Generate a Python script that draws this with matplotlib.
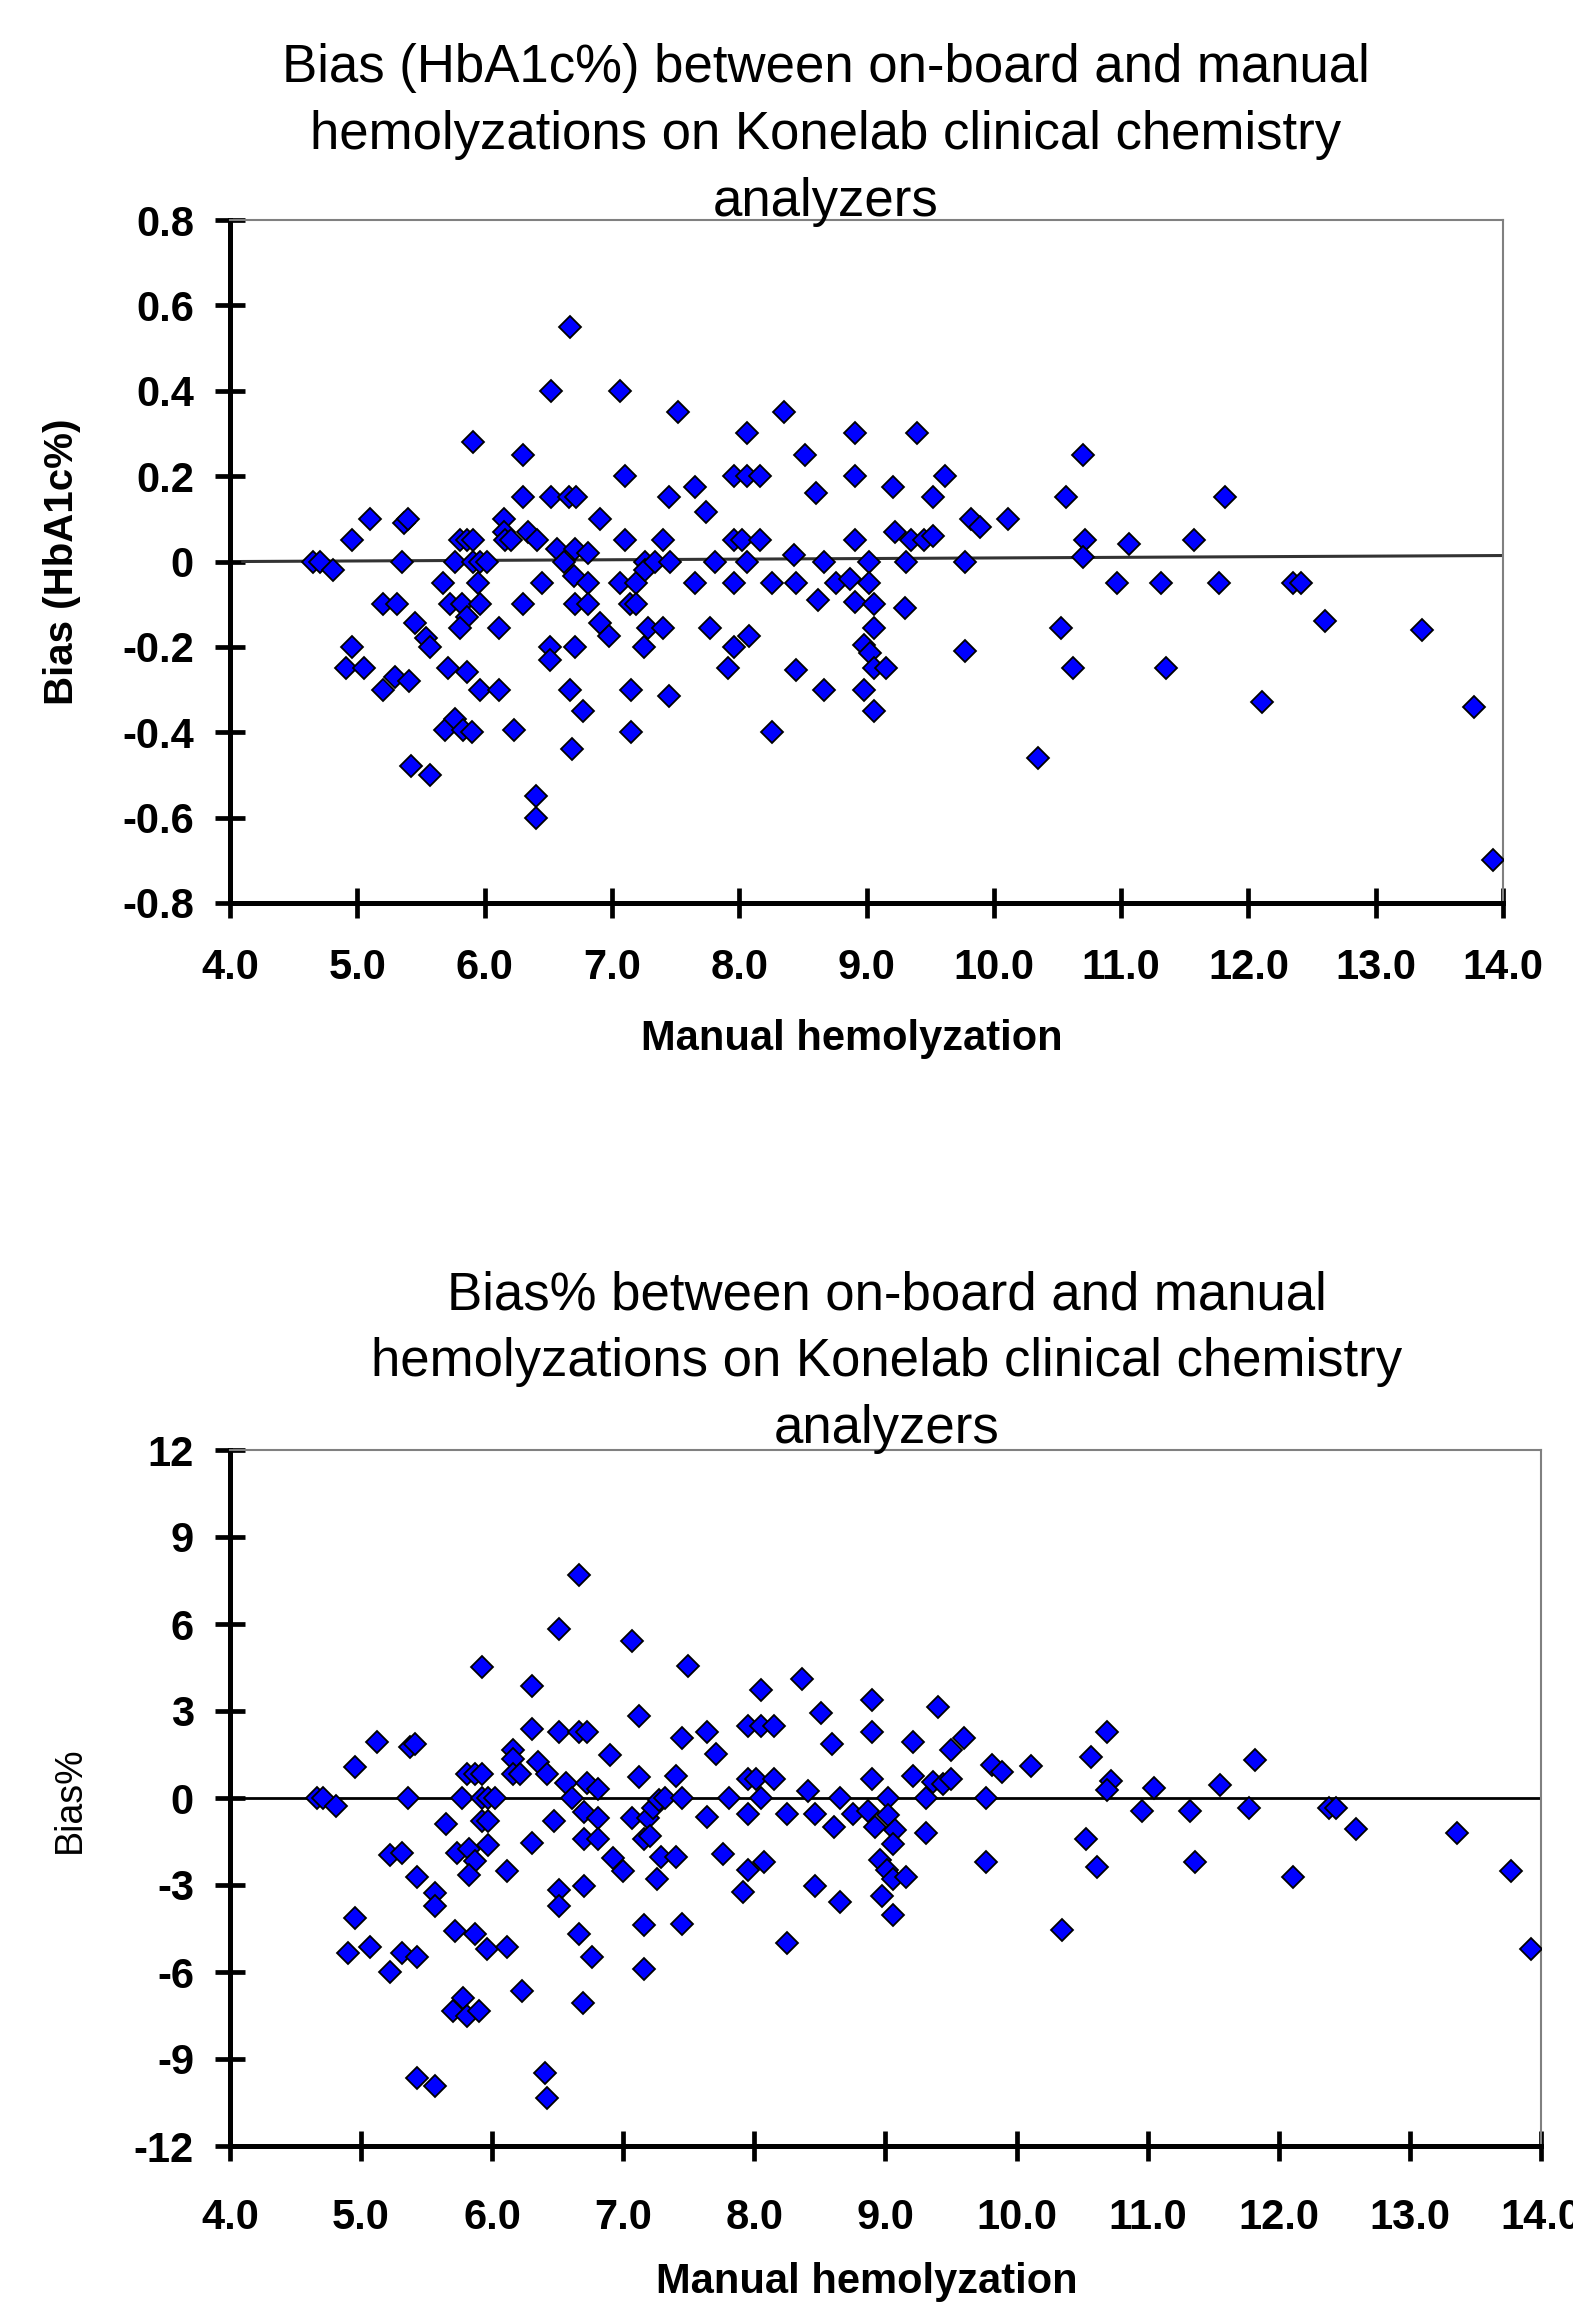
import numpy as np
import matplotlib
matplotlib.use('Agg')
import matplotlib.pyplot as plt

plt.rcParams['font.family'] = ['Liberation Sans', 'DejaVu Sans']

W, H = 1573, 2304

# top panel: bias in HbA1c% units vs manual hemolyzation
manual_a = [6.67, 6.52, 7.06, 5.91, 6.30, 7.10, 6.30, 6.52, 6.66, 6.72,
            5.10, 5.37, 5.40, 6.15, 6.91, 4.96, 5.81, 5.86, 5.91, 6.15,
            6.16, 6.21, 6.34, 6.41, 7.10, 4.65, 4.71, 4.81, 5.35, 5.77,
            5.91, 5.96, 6.02, 6.57, 6.62, 6.71, 6.81, 7.26, 5.67, 5.95,
            6.45, 6.70, 6.81, 7.06, 7.19, 7.26, 5.20, 5.31, 5.73, 5.82,
            5.96, 6.30, 6.71, 6.81, 7.14, 7.19, 5.86, 5.45, 5.81, 6.11,
            6.91, 6.98, 7.28, 5.54, 5.57, 4.96, 6.51, 6.51, 6.71, 7.25,
            4.91, 5.05, 5.20, 5.30, 5.41, 5.71, 5.86, 5.96, 6.11, 6.67,
            6.77, 7.15, 5.69, 5.77, 5.83, 5.90, 6.23, 6.69, 7.15, 5.42,
            5.57, 6.40, 6.40,
            7.52, 8.35, 8.06, 8.91, 9.40, 8.52, 7.45, 7.65, 7.74, 7.96,
            8.06, 8.16, 8.60, 8.91, 9.21, 9.52, 9.62, 9.82, 9.89, 10.11,
            7.40, 7.96, 8.02, 8.16, 8.91, 9.22, 9.35, 9.45, 9.52, 7.34,
            7.46, 7.81, 8.06, 8.43, 8.67, 9.02, 9.31, 9.77, 7.65, 7.96,
            8.26, 8.45, 8.76, 8.87, 9.02, 8.62, 8.91, 9.06, 9.30, 7.40,
            7.77, 9.06, 8.08, 7.96, 8.98, 9.03, 9.77, 7.91, 8.45, 9.06,
            9.15, 7.45, 8.67, 8.98, 9.06, 8.26, 10.35,
            10.70, 10.57, 11.82, 10.72, 11.06, 11.57, 10.70, 10.97, 11.31, 11.77,
            12.35, 12.41, 12.60, 13.36, 10.53, 10.62, 11.35, 12.11, 13.77, 13.92]
bias_a = [0.55, 0.40, 0.40, 0.28, 0.25, 0.20, 0.15, 0.15, 0.15, 0.15,
          0.10, 0.09, 0.10, 0.10, 0.10, 0.05, 0.05, 0.05, 0.05, 0.07,
          0.05, 0.05, 0.07, 0.05, 0.05, 0.0, 0.0, -0.02, 0.0, 0.0,
          0.0, 0.0, 0.0, 0.03, 0.0, 0.03, 0.02, 0.0, -0.05, -0.05,
          -0.05, -0.035, -0.05, -0.05, -0.05, -0.02, -0.10, -0.10, -0.10, -0.10,
          -0.10, -0.10, -0.10, -0.10, -0.10, -0.10, -0.13, -0.145, -0.155, -0.155,
          -0.145, -0.175, -0.155, -0.18, -0.20, -0.20, -0.20, -0.23, -0.20, -0.20,
          -0.25, -0.25, -0.30, -0.27, -0.28, -0.25, -0.26, -0.30, -0.30, -0.30,
          -0.35, -0.30, -0.395, -0.37, -0.395, -0.40, -0.395, -0.44, -0.40, -0.48,
          -0.50, -0.55, -0.60,
          0.35, 0.35, 0.30, 0.30, 0.30, 0.25, 0.15, 0.175, 0.115, 0.20,
          0.20, 0.20, 0.16, 0.20, 0.175, 0.15, 0.20, 0.10, 0.08, 0.10,
          0.05, 0.05, 0.05, 0.05, 0.05, 0.07, 0.05, 0.05, 0.06, 0.0,
          0.0, 0.0, 0.0, 0.015, 0.0, 0.0, 0.0, 0.0, -0.05, -0.05,
          -0.05, -0.05, -0.05, -0.04, -0.05, -0.09, -0.095, -0.10, -0.11, -0.155,
          -0.155, -0.155, -0.175, -0.20, -0.195, -0.215, -0.21, -0.25, -0.255, -0.25,
          -0.25, -0.315, -0.30, -0.30, -0.35, -0.40, -0.46,
          0.25, 0.15, 0.15, 0.05, 0.04, 0.05, 0.01, -0.05, -0.05, -0.05,
          -0.05, -0.05, -0.14, -0.16, -0.155, -0.25, -0.25, -0.33, -0.34, -0.70]
trend_x = [4.1, 14.0]
trend_y = [0.0, 0.014]

# bottom panel: bias% vs manual hemolyzation
manual_b = [6.66, 6.51, 7.07, 5.92, 6.30, 7.12, 6.30, 6.51, 6.66, 6.72,
            5.12, 5.37, 5.41, 6.16, 6.16, 6.90, 4.95, 5.81, 5.87, 5.92,
            6.16, 6.21, 6.35, 6.42, 7.12, 4.66, 4.71, 4.81, 5.36, 5.77,
            5.92, 5.97, 6.02, 6.56, 6.61, 6.72, 6.81, 5.65, 5.92, 5.97,
            6.47, 6.70, 6.81, 7.07, 7.19, 5.22, 5.31, 5.73, 5.82, 5.97,
            6.30, 6.70, 6.81, 7.16, 5.87, 5.82, 6.11, 5.43, 6.92, 7.00,
            5.56, 5.56, 6.51, 6.51, 6.70, 7.16, 4.95, 4.90, 5.07, 5.22,
            5.31, 5.43, 5.72, 5.87, 5.96, 6.11, 6.66, 6.76, 7.16, 5.70,
            5.78, 5.81, 5.90, 6.23, 6.69, 5.43, 5.56, 6.40, 6.42,
            7.49, 8.05, 8.36, 8.90, 9.40, 7.45, 7.64, 7.71, 7.95, 8.05,
            8.15, 8.51, 8.59, 8.90, 9.21, 9.50, 9.60, 9.81, 9.89, 10.11,
            7.40, 7.95, 8.01, 8.15, 8.90, 9.21, 9.36, 9.44, 9.50, 7.23,
            7.27, 7.32, 7.45, 7.81, 8.05, 8.41, 8.65, 9.02, 9.31, 9.77,
            7.64, 7.95, 8.25, 8.46, 8.61, 8.75, 8.87, 9.02, 8.92, 9.07,
            9.31, 7.20, 7.29, 7.40, 7.76, 9.06, 7.26, 7.95, 8.07, 8.96,
            9.01, 9.06, 9.16, 9.77, 7.91, 8.46, 8.65, 8.97, 9.06, 7.45,
            8.25,
            10.69, 10.57, 11.82, 10.72, 10.69, 11.05, 11.55, 10.96, 11.32, 11.77,
            12.38, 12.44, 12.59, 13.36, 10.53, 10.61, 11.36, 12.11, 13.77, 10.35,
            13.92]
bias_pct = [7.69, 5.82, 5.40, 4.53, 3.87, 2.82, 2.39, 2.27, 2.27, 2.27,
            1.93, 1.75, 1.85, 1.66, 1.33, 1.50, 1.07, 0.84, 0.84, 0.84,
            0.84, 0.84, 1.24, 0.84, 0.74, 0.0, 0.0, -0.28, 0.0, 0.0,
            0.0, 0.0, 0.0, 0.51, 0.0, 0.51, 0.30, -0.91, -0.81, -0.81,
            -0.81, -0.48, -0.69, -0.69, -0.69, -1.96, -1.89, -1.89, -1.76, -1.63,
            -1.56, -1.43, -1.43, -1.40, -2.17, -2.67, -2.50, -2.72, -2.06, -2.50,
            -3.28, -3.71, -3.16, -3.71, -3.05, -4.37, -4.15, -5.35, -5.14, -6.01,
            -5.35, -5.47, -4.60, -4.70, -5.22, -5.14, -4.70, -5.47, -5.88, -7.33,
            -6.90, -7.50, -7.33, -6.64, -7.07, -9.67, -9.92, -9.47, -10.33,
            4.56, 3.71, 4.12, 3.38, 3.15, 2.06, 2.27, 1.52, 2.50, 2.50,
            2.50, 2.93, 1.85, 2.27, 1.94, 1.65, 2.06, 1.15, 0.91, 1.10,
            0.77, 0.66, 0.66, 0.66, 0.66, 0.77, 0.54, 0.49, 0.66, -0.33,
            -0.08, 0.0, 0.0, 0.0, 0.0, 0.25, 0.0, 0.0, 0.0, 0.0,
            -0.66, -0.54, -0.54, -0.54, -0.99, -0.54, -0.44, -0.58, -0.99, -1.10,
            -1.20, -1.32, -2.03, -2.03, -1.93, -1.60, -2.80, -2.47, -2.19, -2.14,
            -2.47, -2.80, -2.72, -2.19, -3.25, -3.05, -3.58, -3.38, -4.04, -4.33,
            -4.99,
            2.27, 1.40, 1.32, 0.58, 0.28, 0.33, 0.44, -0.44, -0.44, -0.33,
            -0.33, -0.33, -1.07, -1.19, -1.40, -2.39, -2.19, -2.72, -2.50, -4.56,
            -5.22]
zero_x = [4.0, 14.0]
zero_y = [0.0, 0.0]

xticks = [4, 5, 6, 7, 8, 9, 10, 11, 12, 13, 14]
xtick_labels = ['4.0', '5.0', '6.0', '7.0', '8.0', '9.0', '10.0', '11.0', '12.0', '13.0', '14.0']
yticks_a = [-0.8, -0.6, -0.4, -0.2, 0.0, 0.2, 0.4, 0.6, 0.8]
ytick_labels_a = ['-0.8', '-0.6', '-0.4', '-0.2', '0', '0.2', '0.4', '0.6', '0.8']
yticks_b = [-12, -9, -6, -3, 0, 3, 6, 9, 12]
ytick_labels_b = ['-12', '-9', '-6', '-3', '0', '3', '6', '9', '12']

title_a = ('Bias (HbA1c%) between on-board and manual\n'
           'hemolyzations on Konelab clinical chemistry\nanalyzers')
title_b = ('Bias% between on-board and manual\n'
           'hemolyzations on Konelab clinical chemistry\nanalyzers')
xlabel = 'Manual hemolyzation'


def px_axes(fig, left, top, right, bottom):
    return fig.add_axes([left / W, 1 - bottom / H, (right - left) / W, (bottom - top) / H])


def style(ax, yticks, ylabels, ylim, xpad):
    ax.set_xlim(4, 14)
    ax.set_ylim(*ylim)
    ax.set_xticks(xticks)
    ax.set_xticklabels(xtick_labels)
    ax.set_yticks(yticks)
    ax.set_yticklabels(ylabels)
    for s in ['left', 'bottom']:
        ax.spines[s].set_linewidth(3.6)
        ax.spines[s].set_color('black')
    for s in ['top', 'right']:
        ax.spines[s].set_linewidth(1.5)
        ax.spines[s].set_color('#808080')
    ax.tick_params(direction='inout', length=21, width=3.4, labelsize=30)
    ax.tick_params(axis='x', pad=xpad)
    ax.tick_params(axis='y', pad=15.5)
    for lab in ax.get_xticklabels() + ax.get_yticklabels():
        lab.set_fontweight('bold')


fig = plt.figure(figsize=(W / 100, H / 100), dpi=100)

# top chart
ax1 = px_axes(fig, 230, 220, 1503, 903)
ax1.plot(trend_x, trend_y, color='#333333', lw=2.2, zorder=2)
ax1.plot(manual_a, bias_a, 'D', ms=11, mfc='#0000ff', mec='black', mew=1.3, zorder=3)
style(ax1, yticks_a, ytick_labels_a, (-0.8, 0.8), 22)
fig.text(826 / W, 1 - 135 / H, title_a, ha='center', va='center', fontsize=38, linespacing=1.43)
fig.text(62 / W, 1 - 562 / H, 'Bias (HbA1c%)', rotation=90, ha='center', va='center',
         fontsize=29, fontweight='bold')
fig.text(852 / W, 1 - 1039 / H, xlabel, ha='center', va='center', fontsize=30, fontweight='bold')

# bottom chart
ax2 = px_axes(fig, 230, 1450, 1541, 2146)
ax2.plot(zero_x, zero_y, color='black', lw=2, zorder=2)
ax2.plot(manual_b, bias_pct, 'D', ms=11, mfc='#0000ff', mec='black', mew=1.3, zorder=3)
style(ax2, yticks_b, ytick_labels_b, (-12, 12), 27)
fig.text(887 / W, 1 - 1362 / H, title_b, ha='center', va='center', fontsize=38, linespacing=1.43)
fig.text(70 / W, 1 - 1800 / H, 'Bias%', rotation=90, ha='center', va='center', fontsize=27)
fig.text(867 / W, 1 - 2282 / H, xlabel, ha='center', va='center', fontsize=30, fontweight='bold')

fig.savefig('out.png', dpi=100)
